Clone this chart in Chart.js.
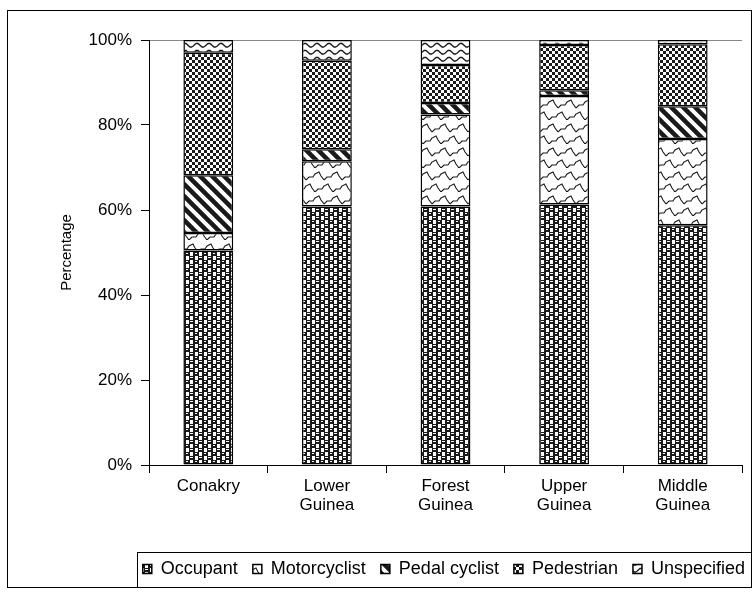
<!DOCTYPE html>
<html>
<head>
<meta charset="utf-8">
<script src="https://cdn.jsdelivr.net/npm/chart.js@4/dist/chart.umd.min.js"></script>
<style>
  html, body { margin: 0; padding: 0; background: #fff; }
  #wrap { width: 755px; height: 592px; }
</style>
</head>
<body>
<div id="wrap"><canvas id="roadChart" width="755" height="592"></canvas></div>
<script>
const regions = [['Conakry'], ['Lower', 'Guinea'], ['Forest', 'Guinea'], ['Upper', 'Guinea'], ['Middle', 'Guinea']];
const seriesNames = ['Occupant', 'Motorcyclist', 'Pedal cyclist', 'Pedestrian', 'Unspecified'];

// percentages, bottom to top
const occupant = [50.5, 60.8, 60.8, 61.3, 56.4];
const motorcyclist = [4.1, 10.7, 21.7, 25.5, 20.3];
const pedalCyclist = [13.6, 2.8, 2.7, 1.4, 7.7];
const pedestrian = [28.8, 20.8, 8.9, 10.6, 14.6];
const unspecified = [3.0, 4.9, 5.9, 1.2, 1.0];
const yTicks = [0, 20, 40, 60, 80, 100];

function makePattern(w, h, draw) {
    const c = document.createElement('canvas');
    c.width = w;
    c.height = h;
    const g = c.getContext('2d');
    g.fillStyle = '#fff';
    g.fillRect(0, 0, w, h);
    g.fillStyle = '#1a1a1a';
    g.strokeStyle = '#1a1a1a';
    draw(g);
    return document.getElementById('roadChart').getContext('2d').createPattern(c, 'repeat');
}

// dark blobs
const occPattern = makePattern(9, 8, g => {
    g.fillRect(0, 0, 6, 4);
    g.fillRect(4, 4, 5, 4);
    g.fillRect(0, 4, 1, 4);
    g.fillStyle = '#fff';
    g.fillRect(1, 1, 3, 1);
    g.fillRect(6, 5, 2, 1);
});
// scale-like network, offset rows
const motoPattern = makePattern(18, 24, g => {
    g.lineWidth = 1.1;
    const scale = (dx, dy) => {
        g.moveTo(dx + 0, dy + 12); g.lineTo(dx + 3, dy + 9); g.lineTo(dx + 7, dy + 9);
        g.lineTo(dx + 9, dy + 6); g.lineTo(dx + 13, dy + 4); g.lineTo(dx + 15, dy + 8); g.lineTo(dx + 18, dy + 12);
    };
    g.beginPath();
    scale(0, 0);
    scale(9, 12);
    scale(-9, 12);
    scale(0, -24);
    g.stroke();
});
// wide diagonal stripes
const pedalPattern = makePattern(12, 12, g => {
    g.lineWidth = 4.5;
    g.beginPath();
    g.moveTo(-2, -2); g.lineTo(14, 14);
    g.moveTo(-14, -2); g.lineTo(2, 14);
    g.moveTo(10, -2); g.lineTo(26, 14);
    g.stroke();
});
// small checker
const pedPattern = makePattern(6, 6, g => {
    g.fillRect(0, 0, 3, 3);
    g.fillRect(3, 3, 3, 3);
});
// waves
const unspecPattern = makePattern(12, 7, g => {
    g.lineWidth = 1.3;
    g.beginPath();
    g.moveTo(0, 5); g.lineTo(4, 1.5); g.lineTo(6, 1.5); g.lineTo(10, 5); g.lineTo(12, 5);
    g.stroke();
});

const patterns = [occPattern, motoPattern, pedalPattern, pedPattern, unspecPattern];
const values = [occupant, motorcyclist, pedalCyclist, pedestrian, unspecified];

const frame = {
    id: 'frame',
    afterLayout(chart) {
        // legend row sits further right than the plot area
        chart.legend.right = 760;
    },
    afterDraw(chart) {
        const c = chart.ctx;
        c.save();
        c.strokeStyle = '#000';
        c.lineWidth = 1;
        c.strokeRect(7.5, 10.5, 744, 577);
        c.strokeRect(137.5, 552.5, 614, 35);
        c.restore();
    }
};

new Chart(document.getElementById('roadChart'), {
    type: 'bar',
    data: {
        labels: regions,
        datasets: seriesNames.map((name, i) => ({
            label: name,
            data: values[i],
            backgroundColor: patterns[i],
            borderColor: '#000',
            borderWidth: 1.5,
            borderSkipped: false,
            barPercentage: 0.42,
            categoryPercentage: 1
        }))
    },
    options: {
        responsive: false,
        animation: false,
        devicePixelRatio: 1,
        layout: { padding: { left: 58, top: 40, right: 13, bottom: 4 } },
        plugins: {
            tooltip: { enabled: false },
            legend: {
                position: 'bottom',
                align: 'end',
                labels: {
                    color: '#000',
                    boxWidth: 9,
                    boxHeight: 9,
                    padding: 15,
                    font: { family: 'Liberation Sans', size: 18 }
                }
            }
        },
        scales: {
            x: {
                stacked: true,
                offset: true,
                afterFit: s => { s.height = 80; },
                border: { color: '#000', width: 1 },
                grid: { offset: true, drawOnChartArea: false, color: '#000', tickLength: 8 },
                ticks: {
                    color: '#000',
                    maxRotation: 0,
                    padding: 4,
                    font: { family: 'Liberation Sans', size: 17, lineHeight: 1.1 }
                }
            },
            y: {
                stacked: true,
                min: 0,
                max: 100,
                afterFit: s => { s.width = 91; },
                afterBuildTicks: s => { s.ticks = yTicks.map(v => ({ value: v })); },
                border: { color: '#000', width: 1 },
                grid: {
                    color: c => (c.tick && c.tick.value === 100 ? '#888' : 'rgba(0,0,0,0)'),
                    tickColor: '#000',
                    tickLength: 8
                },
                ticks: {
                    color: '#000',
                    padding: 9,
                    font: { family: 'Liberation Sans', size: 17 },
                    callback: v => v + '%'
                },
                title: {
                    display: true,
                    text: 'Percentage',
                    color: '#000',
                    font: { family: 'Liberation Sans', size: 15 },
                    padding: 0
                }
            }
        }
    },
    plugins: [frame]
});
</script>
</body>
</html>
